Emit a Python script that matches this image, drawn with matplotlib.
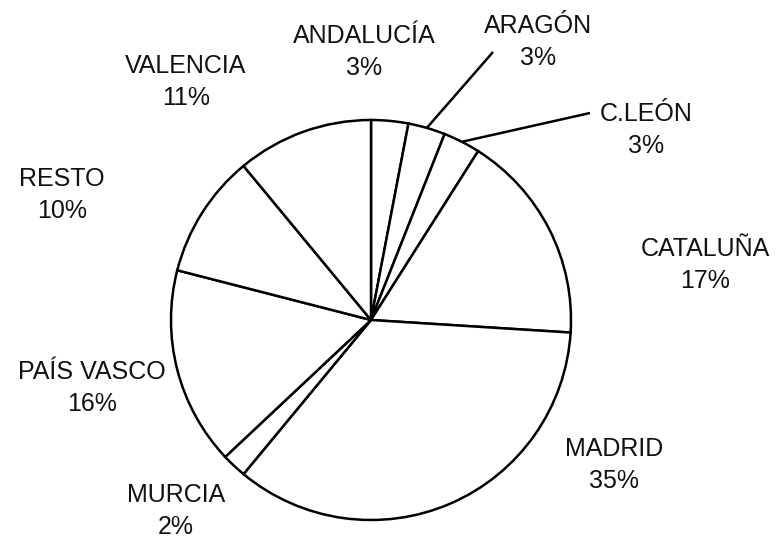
"""
Pie chart of the share by region (white wedges, labels outside).
"""

import numpy as np
import matplotlib
matplotlib.use("Agg")
import matplotlib.pyplot as plt

plt.rcParams["font.family"] = ["Liberation Sans", "DejaVu Sans"]

regions = ["ANDALUCÍA", "ARAGÓN", "C.LEÓN", "CATALUÑA", "MADRID",
           "MURCIA", "PAÍS VASCO", "RESTO", "VALENCIA"]
shares = [3, 3, 3, 17, 35, 2, 16, 10, 11]

# layout (pixel coordinates, origin top-left)
W, H = 779, 538
CX, CY, R = 371, 320, 200
label_xy = [(364, 52), (538, 42), (646, 130), (705, 265), (614, 465),
            (176, 511), (92, 388), (62, 195), (186, 82)]
# leader line end points for the small slices that need them
leaders = {"ARAGÓN": (493, 52), "C.LEÓN": (590, 113)}

fig = plt.figure(figsize=(W/100.0, H/100.0), dpi=100)
ax = fig.add_axes([0, 0, 1, 1])

wedges, _ = ax.pie(
    shares,
    center=(CX, H - CY),
    radius=R,
    startangle=90,
    counterclock=False,
    colors=["white"]*len(shares),
    wedgeprops=dict(edgecolor="black", linewidth=1.8),
)

for name, value, (lx, ly), w in zip(regions, shares, label_xy, wedges):
    ax.text(lx, H - ly, "%s\n%d%%" % (name, value),
            ha="center", va="center", fontsize=18, linespacing=1.4,
            color="#111111")
    if name in leaders:
        mid = np.deg2rad(0.5*(w.theta1 + w.theta2))
        x0 = CX + R*np.cos(mid)
        y0 = (H - CY) + R*np.sin(mid)
        x1, y1 = leaders[name]
        ax.plot([x0, x1], [y0, H - y1], color="black", linewidth=1.8,
                solid_capstyle="butt")

ax.set_xlim(0, W)
ax.set_ylim(0, H)
ax.set_aspect("equal")
ax.axis("off")

fig.savefig("out.png", dpi=100, facecolor="white")
